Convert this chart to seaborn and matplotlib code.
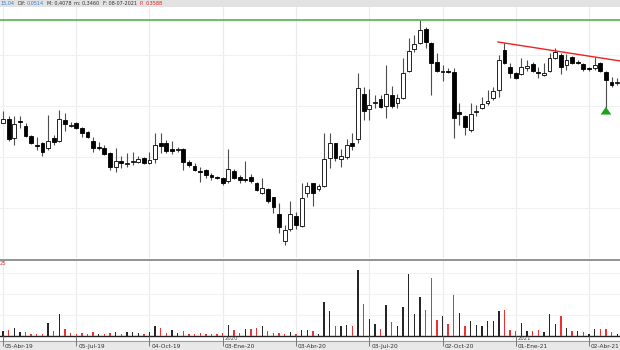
import numpy as np
import pandas as pd
import matplotlib
matplotlib.use("Agg")
import matplotlib.pyplot as plt
import seaborn as sns

# ---------------- data (weekly candles) ----------------
start_date = "2019-04-05"
open_ = [0.304, 0.308, 0.289, 0.306, 0.301, 0.291, 0.282, 0.284, 0.279, 0.289,
         0.286, 0.307, 0.301, 0.304, 0.299, 0.295, 0.286, 0.280, 0.279, 0.274,
         0.260, 0.266, 0.263, 0.265, 0.265, 0.269, 0.264, 0.268, 0.284, 0.284,
         0.278, 0.277, 0.278, 0.265, 0.261, 0.256, 0.257, 0.252, 0.250, 0.249,
         0.246, 0.256, 0.250, 0.248, 0.250, 0.244, 0.234, 0.238, 0.230, 0.213,
         0.186, 0.198, 0.211, 0.201, 0.234, 0.244, 0.238, 0.241, 0.269, 0.284,
         0.268, 0.270, 0.284, 0.288, 0.333, 0.318, 0.324, 0.328, 0.321, 0.332,
         0.324, 0.329, 0.356, 0.378, 0.384, 0.398, 0.384, 0.365, 0.355, 0.356,
         0.355, 0.315, 0.311, 0.297, 0.315, 0.319, 0.324, 0.329, 0.337, 0.377,
         0.360, 0.354, 0.353, 0.359, 0.363, 0.355, 0.352, 0.356, 0.369, 0.372,
         0.362, 0.370, 0.365, 0.363, 0.359, 0.359, 0.364, 0.355, 0.345, 0.344]
high = [0.316, 0.311, 0.311, 0.311, 0.304, 0.292, 0.290, 0.285, 0.312, 0.292,
        0.317, 0.314, 0.305, 0.305, 0.300, 0.296, 0.290, 0.285, 0.282, 0.275,
        0.279, 0.271, 0.274, 0.275, 0.271, 0.270, 0.275, 0.294, 0.294, 0.287,
        0.286, 0.280, 0.279, 0.267, 0.264, 0.260, 0.258, 0.254, 0.251, 0.250,
        0.278, 0.258, 0.252, 0.266, 0.253, 0.245, 0.249, 0.239, 0.230, 0.224,
        0.202, 0.226, 0.215, 0.244, 0.245, 0.244, 0.243, 0.294, 0.294, 0.284,
        0.278, 0.288, 0.294, 0.354, 0.340, 0.338, 0.332, 0.332, 0.362, 0.341,
        0.333, 0.369, 0.389, 0.392, 0.407, 0.400, 0.385, 0.374, 0.362, 0.359,
        0.359, 0.324, 0.312, 0.324, 0.322, 0.330, 0.337, 0.340, 0.372, 0.384,
        0.364, 0.355, 0.369, 0.367, 0.365, 0.360, 0.364, 0.374, 0.379, 0.374,
        0.373, 0.371, 0.367, 0.364, 0.360, 0.370, 0.365, 0.356, 0.350, 0.349]
low = [0.304, 0.286, 0.282, 0.299, 0.290, 0.283, 0.277, 0.271, 0.277, 0.282,
       0.285, 0.296, 0.300, 0.298, 0.290, 0.289, 0.275, 0.277, 0.272, 0.257,
       0.255, 0.259, 0.260, 0.262, 0.264, 0.263, 0.263, 0.264, 0.274, 0.274,
       0.273, 0.275, 0.257, 0.260, 0.256, 0.245, 0.249, 0.247, 0.248, 0.242,
       0.244, 0.248, 0.244, 0.245, 0.244, 0.236, 0.233, 0.224, 0.214, 0.194,
       0.182, 0.196, 0.198, 0.200, 0.230, 0.221, 0.236, 0.240, 0.259, 0.266,
       0.260, 0.268, 0.277, 0.284, 0.307, 0.307, 0.319, 0.319, 0.309, 0.319,
       0.319, 0.328, 0.355, 0.375, 0.383, 0.379, 0.332, 0.355, 0.346, 0.354,
       0.289, 0.302, 0.292, 0.295, 0.311, 0.318, 0.322, 0.327, 0.330, 0.363,
       0.349, 0.348, 0.352, 0.356, 0.355, 0.349, 0.351, 0.355, 0.368, 0.353,
       0.357, 0.363, 0.363, 0.356, 0.356, 0.357, 0.355, 0.319, 0.340, 0.342]
close = [0.308, 0.288, 0.303, 0.305, 0.291, 0.284, 0.281, 0.275, 0.286, 0.285,
         0.308, 0.303, 0.302, 0.299, 0.294, 0.290, 0.279, 0.279, 0.273, 0.260,
         0.266, 0.264, 0.264, 0.266, 0.268, 0.264, 0.267, 0.282, 0.281, 0.276,
         0.276, 0.278, 0.265, 0.262, 0.257, 0.255, 0.252, 0.250, 0.249, 0.244,
         0.258, 0.249, 0.247, 0.247, 0.246, 0.237, 0.239, 0.226, 0.220, 0.200,
         0.197, 0.213, 0.202, 0.229, 0.241, 0.234, 0.241, 0.268, 0.284, 0.269,
         0.271, 0.282, 0.281, 0.339, 0.316, 0.322, 0.325, 0.320, 0.333, 0.321,
         0.329, 0.354, 0.376, 0.383, 0.397, 0.385, 0.364, 0.356, 0.356, 0.355,
         0.309, 0.313, 0.300, 0.313, 0.316, 0.323, 0.326, 0.336, 0.367, 0.364,
         0.354, 0.349, 0.360, 0.361, 0.356, 0.354, 0.354, 0.369, 0.375, 0.360,
         0.367, 0.364, 0.364, 0.358, 0.358, 0.362, 0.356, 0.347, 0.342, 0.345]
volume = [4.7, 5.7, 7.7, 3.7, 4.0, 1.7, 1.7, 1.7, 13.4, 5.0,
          21.7, 7.3, 3.0, 1.7, 2.7, 1.7, 4.0, 2.3, 2.3, 2.7,
          4.0, 2.3, 4.0, 4.0, 3.0, 1.7, 4.0, 10.0, 8.3, 3.0,
          6.3, 3.0, 5.0, 1.7, 2.3, 3.0, 1.7, 1.7, 1.7, 2.7,
          11.3, 5.7, 3.0, 6.7, 6.7, 8.3, 10.0, 5.0, 3.0, 3.0,
          2.3, 4.0, 2.3, 6.0, 6.3, 4.7, 2.3, 34.0, 24.7, 10.0,
          10.0, 10.7, 10.3, 66.3, 32.0, 17.0, 12.3, 7.3, 31.3, 14.0,
          10.0, 29.3, 61.7, 21.7, 39.0, 26.3, 58.0, 16.3, 19.7, 11.7,
          41.3, 23.3, 9.7, 14.7, 11.0, 9.7, 14.7, 14.7, 24.7, 26.3,
          6.3, 5.3, 13.3, 4.7, 4.7, 6.3, 4.0, 22.3, 11.7, 20.3,
          8.3, 4.7, 4.7, 4.0, 2.3, 7.3, 6.7, 6.7, 4.0, 2.3]

tick_weeks = [0, 13, 26, 39, 52, 65, 78, 91, 104]
tick_labels = ["05-Abr-19", "05-Jul-19", "04-Oct-19", "03-Ene-20", "03-Abr-20",
               "03-Jul-20", "02-Oct-20", "01-Ene-21", "02-Abr-21"]
year_weeks = [39, 91]
year_labels = ["2020", "2021"]
trend_anchor_weeks = [89, 105]
signal_week = 107

header_parts = [("15,04", "#3a7bd5"), ("Dif:", "#333333"), ("0,0514", "#3a7bd5"),
                ("M: 0,4078", "#333333"), ("m: 0,3460", "#333333"),
                ("F: 08-07-2021", "#333333"), ("P:", "#e02020"), ("0,3588", "#e02020")]

# ---------------- frame ----------------
df = pd.DataFrame({"open": open_, "high": high, "low": low,
                   "close": close, "volume": volume})
df["week"] = np.arange(len(df))
df["date"] = pd.date_range(start_date, periods=len(df), freq="7D")
df["dir"] = np.where(df["close"].diff().fillna(0) >= 0, "up", "down")
df["bull"] = df["close"] >= df["open"]

sns.set_theme(style="white")
plt.rcParams["font.family"] = ["DejaVu Sans"]

W, H = 620, 350
fig = plt.figure(figsize=(W / 100, H / 100), dpi=100)
fig.patch.set_facecolor("white")

def box(top, bottom):
    return [0, (H - bottom) / H, 1, (bottom - top) / H]

ax_p = fig.add_axes(box(7, 258))
ax_v = fig.add_axes(box(260, 336), sharex=ax_p)
ax_d = fig.add_axes(box(336, 350), sharex=ax_p)

xmin, xmax = -0.53, 109.5
grid_c = "#ebebeb"

# ---- price panel ----
for w in tick_weeks:
    ax_p.axvline(w, color=grid_c, lw=0.8, zorder=0)
for lvl in [0.219, 0.270, 0.321, 0.372]:
    ax_p.axhline(lvl, color="#f0f0f0", lw=0.8, zorder=0)

ax_p.vlines(df["week"], df["low"], df["high"], color="#4d4d4d", lw=0.8, zorder=2)
body_bottom = np.minimum(df["open"], df["close"])
body_h = np.maximum(np.abs(df["close"] - df["open"]), 0.0007)
fills = np.where(df["bull"], "white", "black")
ax_p.bar(df["week"], body_h, bottom=body_bottom, width=0.68, color=fills,
         edgecolor="black", linewidth=0.6, zorder=3)

ax_p.axhline(df["high"].max(), color="#3cb043", lw=1.1, zorder=4)

ta, tb = trend_anchor_weeks
slope = (df["high"][tb] - df["high"][ta]) / (tb - ta)
tx = np.array([87.8, xmax])
ax_p.plot(tx, df["high"][ta] + slope * (tx - ta), color="#ee2222", lw=1.0, zorder=4)

lw_ = df["low"][signal_week]
ax_p.annotate("", xy=(signal_week, lw_ + 0.004), xytext=(signal_week, lw_ - 0.0025),
              arrowprops=dict(arrowstyle="simple,head_width=0.55,head_length=0.4,tail_width=0.22",
                              color="#1fa01f", lw=0, mutation_scale=14), zorder=5)

ax_p.set_xlim(xmin, xmax)
ax_p.set_ylim(0.169, 0.420)
ax_p.axis("off")

# ---- volume panel ----
for w in tick_weeks:
    ax_v.axvline(w, color=grid_c, lw=0.8, zorder=0)
for lvl in [21, 42, 63]:
    ax_v.axhline(lvl, color="#f2f2f2", lw=0.8, zorder=0)
sns.barplot(data=df, x="week", y="volume", hue="dir", native_scale=True,
            palette={"up": "#262626", "down": "#f03030"}, dodge=False,
            width=0.24, saturation=1, errorbar=None, legend=False, ax=ax_v,
            linewidth=0, edgecolor="none", zorder=3)
ax_v.set_xlim(xmin, xmax)
ax_v.set_ylim(0, 76)
ax_v.set_xlabel("")
ax_v.set_ylabel("")
ax_v.set_xticks([])
ax_v.set_yticks([])
for s in ["left", "right"]:
    ax_v.spines[s].set_visible(False)
ax_v.spines["top"].set_color("#8a8a8a")
ax_v.spines["top"].set_linewidth(1.3)
ax_v.spines["bottom"].set_color("#222222")
ax_v.spines["bottom"].set_linewidth(1.0)
ax_v.text(0.0, 0.985, "25", transform=ax_v.transAxes, color="#e03030",
          fontsize=3.8, ha="left", va="top")

# ---- date strip ----
ax_d.set_xlim(xmin, xmax)
ax_d.set_ylim(0, 14)
ax_d.axhspan(0, 9, color="#e8e8e8", zorder=0)
ax_d.axhline(9, color="#a0a0a0", lw=0.8, zorder=1)
for w, lab in zip(tick_weeks, tick_labels):
    ax_d.vlines(w, 4.5, 14, color="#777777", lw=0.7, zorder=2)
    ax_d.text(w + 0.35, 3.2, lab, fontsize=4.2, color="#333333",
              ha="left", va="center", zorder=3)
for w, lab in zip(year_weeks, year_labels):
    ax_d.text(w + 0.35, 12.0, lab, fontsize=3.8, color="#444444",
              ha="left", va="center", zorder=3)
ax_d.axis("off")

# ---- header band ----
fig.patches.append(plt.Rectangle((0, (H - 7) / H), 1, 7 / H, transform=fig.transFigure,
                                 facecolor="#e2e2e2", edgecolor="none", zorder=0))
renderer = fig.canvas.get_renderer()
x_px = 0.0
for txt, col in header_parts:
    t = fig.text(x_px / W, (H - 3.6) / H, txt, color=col, fontsize=3.5,
                 ha="left", va="center")
    bb = t.get_window_extent(renderer=renderer)
    x_px = bb.x1 + (1.5 if txt.endswith(":") else 3.0)

fig.savefig("out.png", dpi=100, facecolor="white")
